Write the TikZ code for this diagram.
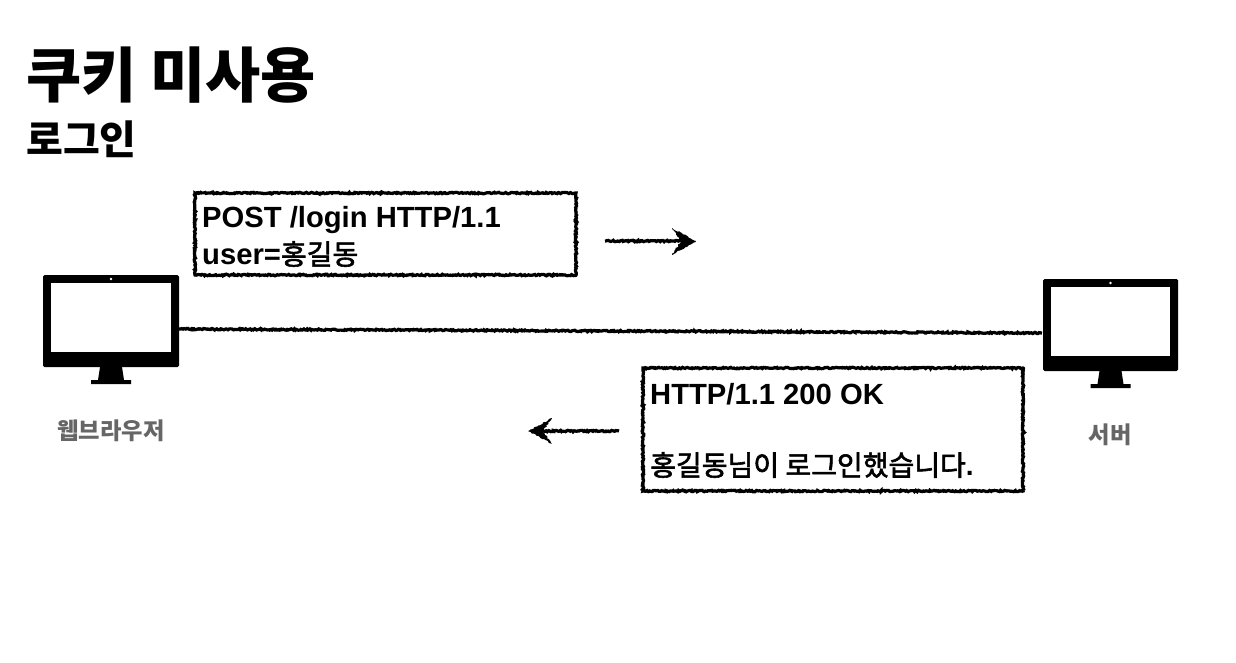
\documentclass[tikz,border=0pt]{standalone}
\usepackage{fontspec}
\setmainfont{Noto Sans CJK KR}
\newfontfamily\lat{Liberation Sans}
\newfontfamily\kr[FakeBold=2,Scale=1.001]{Noto Sans CJK KR}
\usetikzlibrary{decorations.pathmorphing}
\tikzset{
 rough/.style={draw=black,line width=3.2pt,decorate,decoration={random steps,segment length=1.2pt,amplitude=0.7pt}},
 heading/.style={anchor=west,inner sep=0pt},
 body/.style={anchor=west,inner sep=0pt,font=\fontsize{28}{28}\selectfont\kr},
 latin/.style={anchor=west,inner sep=0pt,font=\fontsize{29.2}{29.2}\selectfont\lat\bfseries},
 caption/.style={anchor=center,inner sep=0pt,text=black!60,font=\fontsize{23.3}{23.3}\selectfont\bfseries},
 tip/.style={fill=black,decorate,decoration={random steps,segment length=1.5pt,amplitude=0.7pt}},
}
\newcommand{\monitor}[3]{%
 \begin{scope}[shift={(#1,#2)}]
 \fill[black,rounded corners=1.5pt] (0,0) rectangle (#3,92);
 \fill[white] (8,8) rectangle (#3-8,77);
 \fill[white] (#3/2,4) circle (1.3);
 \fill[black] (#3/2-11,92) -- (#3/2+11,92) -- (#3/2+13,105) -- (#3/2+20,105) -- (#3/2+20,109) -- (#3/2-20,109) -- (#3/2-20,105) -- (#3/2-13,105) -- cycle;
 \end{scope}}
\begin{document}
\begin{tikzpicture}[x=1pt,y=-1pt]
\useasboundingbox (0,0) rectangle (1236,662);
\fill[white] (0,0) rectangle (1236,662);
\node[heading,font=\fontsize{60}{60}\selectfont\bfseries] (t1) at (26,75) {쿠키 미사용};
\node[heading,font=\fontsize{40}{40}\selectfont\bfseries] (t2) at (26,139) {로그인};
\monitor{43}{275}{136}
\monitor{1043}{279}{135}
\coordinate (ca) at (179,329);
\coordinate (cb) at (1042,333);
\draw[rough] (ca) -- (cb);
\node[caption] (l1) at (111,431) {웹브라우저};
\node[caption] (l2) at (1110,435) {서버};
\draw[rough] (195,193) rectangle (576,275);
\node[latin] (r1) at (202,220.5) {POST /login HTTP/1.1};
\node[body] (r2) at (202,254) {{\lat\bfseries\fontsize{29.2}{29.2}\selectfont user=}홍길동};
\draw[rough] (643,368) rectangle (1023,491);
\node[latin] (s1) at (650,394) {HTTP/1.1 200 OK};
\node[body] (s2) at (650,465) {홍길동님이 로그인했습니다{\lat\bfseries .}};
\coordinate (a1) at (605,241);
\coordinate (a2) at (696,241);
\coordinate (a3) at (681,241);
\coordinate (b1) at (619,431);
\coordinate (b2) at (528,431);
\coordinate (b3) at (543,431);
\draw[rough] (a1) -- (a3);
\fill[tip] (a2) -- (672,228) -- (a3) -- (672,255) -- cycle;
\draw[rough] (b1) -- (b3);
\fill[tip] (b2) -- (552,418) -- (b3) -- (552,444) -- cycle;
\end{tikzpicture}
\end{document}
